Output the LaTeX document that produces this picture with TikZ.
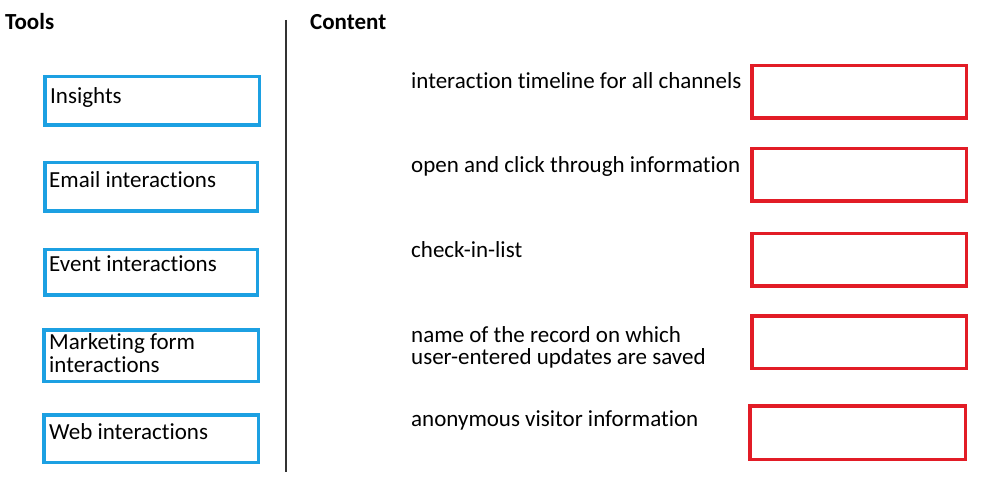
\documentclass[tikz,border=0pt]{standalone}
\usepackage{fontspec}
\setmainfont{Carlito}[Ligatures=NoCommon]
\definecolor{toolblue}{RGB}{28,160,226}
\definecolor{slotred}{RGB}{226,28,38}
\definecolor{divider}{RGB}{50,50,50}
\begin{document}
\begin{tikzpicture}[x=1pt,y=-1pt,
  toolbox/.style={draw=toolblue,line width=3.5pt},
  slotbox/.style={draw=slotred,line width=3.5pt},
  lbl/.style={anchor=base west,inner sep=0pt,font=\fontsize{23}{27}\selectfont},
  head/.style={anchor=base west,inner sep=0pt,font=\fontsize{23}{27}\selectfont\bfseries}]
\useasboundingbox (0,0) rectangle (1000,502);
% headers
\node[head] (tools) at (5,29.5) {Tools};
\node[head] (content) at (310,29.5) {Content};
% divider
\coordinate (dtop) at (286,20);
\coordinate (dbot) at (286,472);
\draw[divider,line width=1.5pt] (dtop) -- (dbot);
% tool boxes
\draw[toolbox] (44.75,76.75) rectangle (259.25,125.25);
\draw[toolbox] (44.75,162.75) rectangle (257.25,211.25);
\draw[toolbox] (44.75,249.75) rectangle (257.25,295.25);
\draw[toolbox] (43.75,329.75) rectangle (258.25,381.25);
\draw[toolbox] (43.75,414.75) rectangle (258.25,462.25);
\node[lbl] (t1) at (50,104) {Insights};
\node[lbl] (t2) at (49,188) {Email interactions};
\node[lbl] (t3) at (49,272) {Event interactions};
\node[lbl] (t4a) at (49,349) {Marketing form};
\node[lbl] (t4b) at (49,372) {interactions};
\node[lbl] (t5) at (49,439) {Web interactions};
% content texts
\node[lbl] (c1) at (411,89) {interaction timeline for all channels};
\node[lbl] (c2) at (411,173) {open and click through information};
\node[lbl] (c3) at (411,258) {check-in-list};
\node[lbl] (c4a) at (411,342) {name of the record on which};
\node[lbl] (c4b) at (411,364) {user-entered updates are saved};
\node[lbl] (c5) at (411,426) {anonymous visitor information};
% answer slots
\draw[slotbox] (751.75,65.75) rectangle (966.25,118.25);
\draw[slotbox] (751.75,148.75) rectangle (966.25,201.25);
\draw[slotbox] (751.75,233.75) rectangle (966.25,286.25);
\draw[slotbox] (751.75,315.75) rectangle (966.25,368.25);
\draw[slotbox] (749.75,405.75) rectangle (965.25,459.25);
\end{tikzpicture}
\end{document}
